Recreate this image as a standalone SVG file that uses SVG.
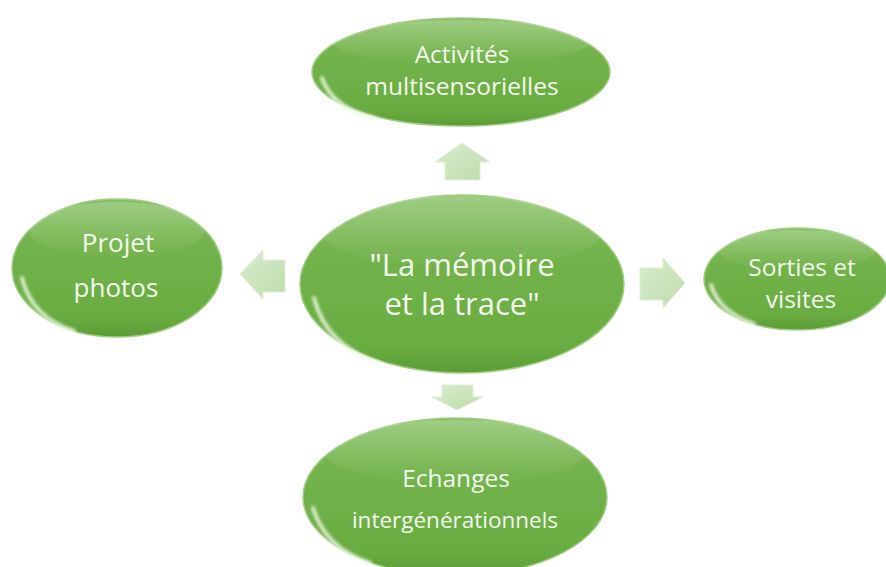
<svg xmlns="http://www.w3.org/2000/svg" width="886" height="567" viewBox="0 0 886 567">
  <defs>
    <linearGradient id="gEll" x1="0" y1="0" x2="0" y2="1">
      <stop offset="0" stop-color="#84bf60"/>
      <stop offset="0.3" stop-color="#74b34d"/>
      <stop offset="0.85" stop-color="#69ac41"/>
      <stop offset="1" stop-color="#5c9c36"/>
    </linearGradient>
    <linearGradient id="gShine" x1="0" y1="0" x2="0" y2="1">
      <stop offset="0" stop-color="#ffffff" stop-opacity="0.22"/>
      <stop offset="1" stop-color="#ffffff" stop-opacity="0"/>
    </linearGradient>
    <linearGradient id="gArr" x1="0" y1="0" x2="1" y2="1">
      <stop offset="0" stop-color="#d8ecce"/>
      <stop offset="1" stop-color="#bedcad"/>
    </linearGradient>
    <filter id="soft" x="-20%" y="-20%" width="140%" height="140%">
      <feGaussianBlur stdDeviation="1.6"/>
    </filter>
    <style>
      .ell { fill: url(#gEll); stroke: #9fcd82; stroke-width: 1.5; }
      .shine { fill: url(#gShine); }
      .edge { fill: none; stroke: #eef8e6; stroke-width: 4; stroke-linecap: round; opacity: 0.85; filter: url(#soft); }
      .lbl { font-family: "Open Sans", Lato, "Liberation Sans", sans-serif; fill: #f2f8ec; text-anchor: middle; font-variant-ligatures: none; }
      .arr { fill: url(#gArr); stroke: #dcefd1; stroke-width: 1; }
    </style>
  </defs>

  <g id="connectors">
    <polygon class="arr" points="462,143 490,162 480,162 480,180 445,180 445,162 435,162"/>
    <polygon class="arr" points="442,385 473,385 473,397 483,397 457,410 432,397 442,397"/>
    <polygon class="arr" points="240,274 263,250 263,260 285,260 285,292 263,292 263,299"/>
    <polygon class="arr" points="640,268 663,268 663,258 685,283 663,308 663,300 640,300"/>
  </g>

  <g id="node-center">
    <ellipse class="ell" cx="462" cy="284" rx="162" ry="89"/>
    <ellipse class="shine" cx="462" cy="232" rx="140" ry="36"/>
    <path class="edge" d="M 314 298 Q 326 345 378 363"/>
    <text class="lbl" font-size="31"><tspan x="462" y="276">"La mémoire</tspan><tspan x="462" y="315">et la trace"</tspan></text>
  </g>

  <g id="node-top">
    <ellipse class="ell" cx="461" cy="72" rx="149" ry="54"/>
    <ellipse class="shine" cx="461" cy="42" rx="128" ry="22"/>
    <path class="edge" d="M 322 78 Q 332 108 376 119"/>
    <text class="lbl" font-size="24.5"><tspan x="462" y="63">Activités</tspan><tspan x="462" y="95">multisensorielles</tspan></text>
  </g>

  <g id="node-left">
    <ellipse class="ell" cx="117" cy="268" rx="105" ry="69"/>
    <ellipse class="shine" cx="117" cy="230" rx="88" ry="28"/>
    <path class="edge" d="M 22 278 Q 32 318 74 331"/>
    <text class="lbl" font-size="26"><tspan x="118" y="252">Projet</tspan><tspan x="116" y="297">photos</tspan></text>
  </g>

  <g id="node-right">
    <ellipse class="ell" cx="797" cy="279" rx="93" ry="51"/>
    <ellipse class="shine" cx="797" cy="250" rx="78" ry="20"/>
    <path class="edge" d="M 711 285 Q 719 312 754 324"/>
    <text class="lbl" font-size="24.5"><tspan x="802" y="276">Sorties et</tspan><tspan x="801" y="308">visites</tspan></text>
  </g>

  <g id="node-bottom">
    <ellipse class="ell" cx="455" cy="497" rx="152" ry="79"/>
    <ellipse class="shine" cx="455" cy="452" rx="130" ry="32"/>
    <path class="edge" d="M 313 508 Q 325 548 370 563"/>
    <text class="lbl" font-size="24.5"><tspan x="456" y="487">Echanges</tspan><tspan x="455" y="528" font-size="22.5">intergénérationnels</tspan></text>
  </g>
</svg>
